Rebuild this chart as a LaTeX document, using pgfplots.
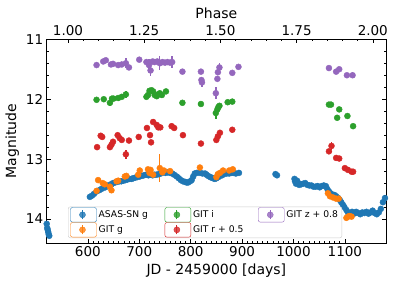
\documentclass[border=0pt]{standalone}
\usepackage{pgfplots}
\usepackage{pgfplotstable}
\pgfplotsset{compat=1.18}
\usepackage{fontspec}
\setmainfont{DejaVu Sans}
\definecolor{c0}{HTML}{1F77B4}
\definecolor{c1}{HTML}{FF7F0E}
\definecolor{c2}{HTML}{2CA02C}
\definecolor{c3}{HTML}{D62728}
\definecolor{c4}{HTML}{9467BD}

\pgfplotstableread{
x y e
520 14.08 0.02
521 14.15 0.02
522 14.18 0.02
523 14.22 0.02
524 14.26 0.02
525 14.28 0.02
604 13.63 0.01
608 13.61 0.01
612 13.58 0.01
617 13.54 0.01
622 13.52 0.01
626 13.50 0.01
630 13.48 0.01
634 13.47 0.01
638 13.45 0.01
642 13.43 0.01
646 13.42 0.01
649 13.40 0.01
653 13.39 0.01
657 13.38 0.01
661 13.37 0.01
665 13.37 0.01
669 13.36 0.01
673 13.35 0.01
677 13.34 0.01
681 13.33 0.01
685 13.33 0.01
688 13.32 0.01
692 13.31 0.01
696 13.30 0.01
701 13.29 0.01
705 13.28 0.01
709 13.27 0.01
714 13.26 0.01
718 13.27 0.01
722 13.26 0.01
726 13.27 0.01
730 13.26 0.01
734 13.26 0.01
738 13.25 0.01
742 13.24 0.01
747 13.22 0.01
751 13.23 0.01
755 13.22 0.01
760 13.23 0.01
764 13.24 0.01
768 13.26 0.01
773 13.29 0.01
777 13.32 0.01
781 13.35 0.01
785 13.37 0.01
789 13.38 0.01
792 13.39 0.01
795 13.39 0.01
799 13.37 0.01
802 13.35 0.01
805 13.29 0.01
808 13.24 0.01
812 13.23 0.01
818 13.23 0.01
823 13.24 0.01
828 13.24 0.01
831 13.26 0.01
834 13.28 0.01
838 13.30 0.01
841 13.31 0.01
844 13.32 0.01
847 13.33 0.01
850 13.32 0.01
854 13.30 0.01
857 13.28 0.01
861 13.27 0.01
865 13.25 0.01
870 13.24 0.01
875 13.24 0.01
879 13.23 0.01
883 13.23 0.01
888 13.24 0.01
894 13.23 0.01
965 13.25 0.01
968 13.27 0.01
1002 13.33 0.01
1003 13.37 0.01
1005 13.41 0.01
1007 13.36 0.01
1009 13.40 0.01
1011 13.43 0.01
1015 13.42 0.01
1019 13.41 0.01
1023 13.40 0.01
1027 13.43 0.01
1031 13.44 0.01
1035 13.44 0.01
1039 13.46 0.01
1043 13.46 0.01
1047 13.45 0.01
1051 13.47 0.01
1055 13.45 0.01
1059 13.44 0.01
1063 13.45 0.01
1066 13.50 0.01
1069 13.54 0.01
1072 13.57 0.01
1076 13.59 0.01
1080 13.60 0.01
1083 13.62 0.01
1087 13.65 0.01
1090 13.68 0.01
1093 13.72 0.01
1096 13.76 0.01
1099 13.80 0.01
1103 13.85 0.01
1106 13.89 0.01
1110 13.90 0.01
1114 13.88 0.01
1118 13.91 0.01
1122 13.88 0.01
1126 13.90 0.01
1130 13.92 0.01
1134 13.89 0.01
1138 13.90 0.01
1142 13.88 0.01
1146 13.91 0.01
1150 13.89 0.01
1154 13.86 0.01
1158 13.90 0.01
1162 13.92 0.01
1166 13.89 0.01
1170 13.83 0.01
1174 13.72 0.01
1178 13.65 0.01
}\asassn

\pgfplotstableread{
x y e
617 13.53 0.03
620 13.35 0.03
629 13.40 0.03
633 13.42 0.03
643 13.46 0.03
646 13.52 0.04
656 13.37 0.03
659 13.36 0.03
672 13.29 0.03
675 13.28 0.03
698 13.26 0.03
701 13.19 0.03
717 13.17 0.03
720 13.23 0.03
722 13.18 0.03
727 13.26 0.05
740 13.15 0.24
745 13.22 0.05
748 13.19 0.03
760 13.20 0.03
818 13.14 0.03
850 13.30 0.03
853 13.25 0.03
857 13.23 0.03
863 13.19 0.03
875 13.19 0.03
882 13.17 0.03
1067 13.57 0.02
1071 13.62 0.02
1077 13.64 0.02
1083 13.66 0.02
1088 13.66 0.02
1103 13.98 0.02
1106 13.96 0.02
1109 13.95 0.02
1113 13.96 0.02
}\gitg

\pgfplotstableread{
x y e
617 12.01 0.02
631 12.00 0.02
643 12.06 0.05
647 11.99 0.02
650 11.99 0.02
659 11.98 0.02
666 11.96 0.02
674 11.92 0.06
714 11.96 0.02
717 11.93 0.02
720 11.86 0.02
724 11.85 0.02
727 11.87 0.02
730 11.93 0.02
734 11.95 0.02
737 11.92 0.02
740 11.90 0.02
744 11.93 0.02
752 11.87 0.02
784 12.06 0.02
820 12.08 0.02
849 12.23 0.10
852 12.17 0.04
854 12.13 0.02
856 12.11 0.02
872 12.05 0.02
881 12.04 0.02
1069 12.09 0.02
1073 12.09 0.02
1085 12.31 0.02
1089 12.17 0.02
1105 12.28 0.02
1116 12.45 0.02
}\giti

\pgfplotstableread{
x y e
618 12.80 0.02
625 12.61 0.02
628 12.63 0.02
643 12.80 0.02
646 12.76 0.02
649 12.71 0.02
658 12.60 0.02
662 12.65 0.02
666 12.68 0.02
674 12.92 0.07
680 12.69 0.02
699 12.63 0.02
715 12.48 0.02
721 12.60 0.02
723 12.72 0.02
727 12.38 0.02
734 12.43 0.02
737 12.47 0.02
741 12.47 0.02
763 12.45 0.02
768 12.48 0.02
785 12.60 0.02
820 12.74 0.02
850 12.68 0.02
853 12.62 0.02
857 12.56 0.02
881 12.51 0.02
1069 12.87 0.02
1074 12.78 0.07
1083 12.98 0.02
1089 12.99 0.02
1100 13.15 0.02
1106 13.18 0.02
1113 13.21 0.02
1116 13.21 0.02
}\gitr

\pgfplotstableread{
x y e
617 11.43 0.02
630 11.37 0.02
635 11.35 0.02
645 11.42 0.02
649 11.41 0.02
659 11.43 0.02
666 11.42 0.02
674 11.40 0.08
680 11.47 0.02
700 11.34 0.02
714 11.38 0.02
719 11.43 0.10
722 11.52 0.10
726 11.37 0.02
730 11.38 0.04
735 11.37 0.03
740 11.40 0.12
745 11.38 0.03
750 11.39 0.03
755 11.38 0.03
760 11.39 0.03
764 11.38 0.10
784 11.54 0.02
820 11.54 0.02
821 11.68 0.03
822 11.72 0.08
849 11.90 0.10
852 11.66 0.03
853 11.55 0.03
856 11.47 0.07
881 11.56 0.03
893 11.46 0.03
1069 11.48 0.02
1083 11.54 0.03
1089 11.50 0.04
1104 11.60 0.02
1115 11.60 0.05
}\gitz

\pgfplotsset{
  pts/.style={color=#1, only marks, mark=*, mark size=3pt,
      legend image code/.code={
        \path (-12pt,-7.3pt) rectangle (14pt,7.3pt);
        \draw[#1, line width=1.2pt] (0pt,-4.5pt)--(0pt,4.5pt);
        \fill[#1] (0pt,0pt) circle (3pt);},
      error bars/.cd, y dir=both, y explicit, error mark=none,
      error bar style={line width=1.4pt, draw=#1, color=#1}, /pgfplots/.cd},
}

\begin{document}
\begin{tikzpicture}
\useasboundingbox (-46.7pt,-43pt) rectangle (349.3pt,243pt);
\begin{axis}[
  at={(0,0)}, anchor=south west, scale only axis,
  width=339.3pt, height=203.7pt,
  xmin=520, xmax=1180, ymin=11, ymax=14.4, y dir=reverse,
  xtick={600,700,...,1100}, minor x tick num=9,
  ytick={11,12,13,14}, minor y tick num=4,
  xtick pos=bottom, ytick pos=both, yticklabel pos=left,
  tick align=inside,
  major tick length=4pt, minor tick length=2pt,
  every tick/.style={black, line width=0.6pt},
  axis line style={line width=0.8pt},
  xlabel={JD - 2459000 [days]}, ylabel={Magnitude},
  tick label style={font=\fontsize{13.5}{15}\selectfont},
  label style={font=\fontsize{14}{16}\selectfont},
  /pgf/number format/assume math mode=true,
  /pgf/number format/1000 sep={},
  legend columns=3,
  legend style={at={(0.063,0.0245)}, anchor=south west,
    font=\fontsize{9.2}{11}\selectfont, draw=black!20, rounded corners=2pt,
    fill=white, fill opacity=0.8, text opacity=1,
    inner xsep=2pt, inner ysep=0.5pt},
  legend cell align=left,
]
\addplot[pts=c0] table[x=x, y=y, y error=e] {\asassn};
\addlegendentry{\makebox[64pt][l]{ASAS-SN g}}
\addplot[pts=c2] table[x=x, y=y, y error=e] {\giti};
\addlegendentry{\makebox[63pt][l]{GIT i}}
\addplot[pts=c4] table[x=x, y=y, y error=e] {\gitz};
\addlegendentry{GIT z + 0.8}
\addplot[pts=c1] table[x=x, y=y, y error=e] {\gitg};
\addlegendentry{\makebox[64pt][l]{GIT g}}
\addplot[pts=c3] table[x=x, y=y, y error=e] {\gitr};
\addlegendentry{\makebox[63pt][l]{GIT r + 0.5}}
\end{axis}
\begin{axis}[
  at={(0,0)}, anchor=south west, scale only axis,
  width=339.3pt, height=203.7pt,
  xmin=0.9302, xmax=2.0433, ymin=0, ymax=1,
  axis x line*=top, axis y line=none,
  xtick={1,1.25,1.5,1.75,2}, minor x tick num=4,
  tick align=inside,
  major tick length=4pt, minor tick length=2pt,
  every tick/.style={black, line width=0.6pt},
  axis line style={line width=0.8pt},
  xlabel={Phase},
  tick label style={font=\fontsize{13.5}{15}\selectfont},
  label style={font=\fontsize{14}{16}\selectfont},
  /pgf/number format/assume math mode=true,
  xticklabel style={/pgf/number format/.cd, fixed, fixed zerofill, precision=2},
]
\end{axis}
\end{tikzpicture}
\end{document}
